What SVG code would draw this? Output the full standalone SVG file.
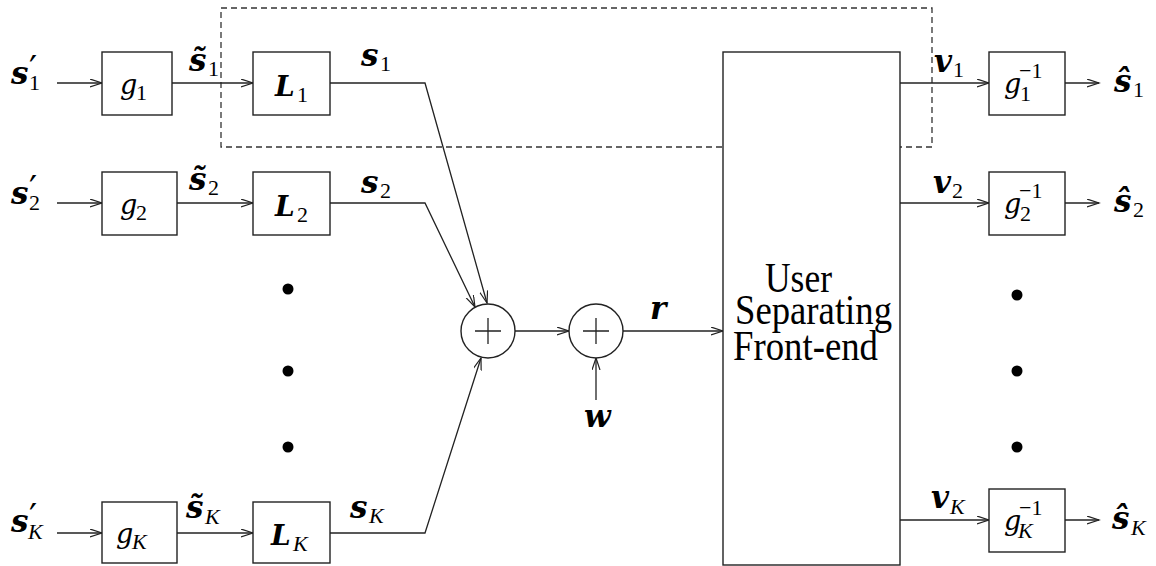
<svg xmlns="http://www.w3.org/2000/svg" width="1156" height="566" viewBox="0 0 1156 566">
<style>
.bx{fill:#fff;stroke:#222;stroke-width:1.4}
.ln{fill:none;stroke:#222;stroke-width:1.3}
.ar{fill:none;stroke:#222;stroke-width:1.3;marker-end:url(#ah)}
.bm{font-family:"DejaVu Serif",serif;font-style:italic;font-weight:bold;font-size:31px;fill:#000}
.bL{font-family:"DejaVu Serif",serif;font-style:italic;font-weight:bold;font-size:28px;fill:#000}
.im{font-family:"DejaVu Serif",serif;font-style:italic;font-size:27px;fill:#000}
.sb{font-family:"Liberation Serif",serif;font-style:normal;font-weight:normal;font-size:22px;fill:#000}
.sk{font-family:"Liberation Serif",serif;font-style:italic;font-weight:normal;font-size:22px;fill:#000}
.pr{font-family:"DejaVu Serif",serif;font-style:normal;font-weight:normal;font-size:36px;fill:#000}
.big{font-family:"Liberation Serif",serif;font-size:42px;fill:#000}
.dot{fill:#000}
</style>
<defs>
<marker id="ah" markerUnits="userSpaceOnUse" markerWidth="14" markerHeight="10" refX="12" refY="4" orient="auto">
<path d="M0,0 L12,4 L0,8" fill="none" stroke="#222" stroke-width="1.2"/>
</marker>
</defs>

<rect id="group-box" x="221" y="8" width="711" height="139" fill="none" stroke="#333" stroke-width="1.3" stroke-dasharray="6,4"/>

<g id="connectors">
<line class="ar" x1="57" y1="83" x2="102" y2="83"/>
<line class="ar" x1="172" y1="83" x2="253" y2="83"/>
<polyline class="ar" points="330,83 425,83 487,303"/>
<line class="ar" x1="57" y1="203" x2="102" y2="203"/>
<line class="ar" x1="177" y1="203" x2="253" y2="203"/>
<polyline class="ar" points="330,203 425,203 475,307"/>
<line class="ar" x1="57" y1="533" x2="102" y2="533"/>
<line class="ar" x1="177" y1="533" x2="253" y2="533"/>
<polyline class="ar" points="330,533 425,533 481,358"/>
<line class="ar" x1="515" y1="331" x2="569" y2="331"/>
<line class="ar" x1="623" y1="331" x2="723" y2="331"/>
<line class="ar" x1="596" y1="400" x2="596" y2="358"/>
<line class="ar" x1="900" y1="83" x2="989" y2="83"/>
<line class="ar" x1="1065" y1="83" x2="1099" y2="83"/>
<line class="ar" x1="900" y1="203" x2="989" y2="203"/>
<line class="ar" x1="1065" y1="203" x2="1099" y2="203"/>
<line class="ar" x1="900" y1="520" x2="989" y2="520"/>
<line class="ar" x1="1065" y1="520" x2="1099" y2="520"/>
</g>

<!-- input labels -->
<g id="in1"><text class="bm" x="11" y="84">s<tspan class="pr" x="29" y="81">′</tspan><tspan class="sb" x="29" y="90">1</tspan></text></g>
<g id="in2"><text class="bm" x="11" y="204">s<tspan class="pr" x="29" y="201">′</tspan><tspan class="sb" x="29" y="210">2</tspan></text></g>
<g id="inK"><text class="bm" x="11" y="532">s<tspan class="pr" x="29" y="529">′</tspan><tspan class="sk" x="28" y="539">K</tspan></text></g>

<!-- g boxes -->
<g id="g1"><rect class="bx" x="102" y="52" width="70" height="63"/><text class="im" x="120" y="94">g</text><text class="sb" x="136" y="100">1</text></g>
<g id="g2"><rect class="bx" x="102" y="172" width="75" height="63"/><text class="im" x="120" y="214">g</text><text class="sb" x="136" y="220">2</text></g>
<g id="gK"><rect class="bx" x="102" y="502" width="75" height="61"/><text class="im" x="116" y="543">g</text><text class="sk" x="132" y="549">K</text></g>

<!-- tilde labels -->
<g id="t1"><text class="bm" x="189" y="71">s̃</text><text class="sb" x="208" y="76">1</text></g>
<g id="t2"><text class="bm" x="189" y="190">s̃</text><text class="sb" x="208" y="195">2</text></g>
<g id="tK"><text class="bm" x="186" y="518">s̃</text><text class="sk" x="205" y="524">K</text></g>

<!-- L boxes -->
<g id="L1"><rect class="bx" x="253" y="52" width="77" height="63"/><text class="bL" x="275" y="96">L</text><text class="sb" x="297" y="102">1</text></g>
<g id="L2"><rect class="bx" x="253" y="172" width="77" height="63"/><text class="bL" x="275" y="216">L</text><text class="sb" x="297" y="222">2</text></g>
<g id="LK"><rect class="bx" x="253" y="502" width="77" height="61"/><text class="bL" x="271" y="545">L</text><text class="sk" x="293" y="551">K</text></g>

<!-- s labels -->
<g id="s1l"><text class="bm" x="361" y="66">s</text><text class="sb" x="380" y="71">1</text></g>
<g id="s2l"><text class="bm" x="361" y="193">s</text><text class="sb" x="380" y="198">2</text></g>
<g id="sKl"><text class="bm" x="350" y="518">s</text><text class="sk" x="369" y="523">K</text></g>

<!-- dots -->
<g id="dots-left"><circle class="dot" cx="288" cy="289" r="5.5"/><circle class="dot" cx="288" cy="371" r="5.5"/><circle class="dot" cx="288" cy="447" r="5.5"/></g>
<g id="dots-right"><circle class="dot" cx="1017" cy="295" r="5.5"/><circle class="dot" cx="1017" cy="371" r="5.5"/><circle class="dot" cx="1017" cy="447" r="5.5"/></g>

<!-- adders -->
<g id="sum1"><circle class="bx" cx="488" cy="331" r="27"/><path class="ln" d="M475,331 H501 M488,318 V344"/></g>
<g id="sum2"><circle class="bx" cx="596" cy="331" r="27"/><path class="ln" d="M583,331 H609 M596,318 V344"/></g>
<g id="wl"><text class="bm" x="584" y="427">w</text></g>
<g id="rl"><text class="bm" x="650" y="319">r</text></g>

<!-- front-end -->
<g id="frontend"><rect class="bx" x="723" y="52" width="177" height="513"/>
<text class="big" x="765" y="292" textLength="67" lengthAdjust="spacingAndGlyphs">User</text>
<text class="big" x="735" y="324" textLength="157" lengthAdjust="spacingAndGlyphs">Separating</text>
<text class="big" x="733" y="360" textLength="145" lengthAdjust="spacingAndGlyphs">Front-end</text>
</g>

<!-- v labels -->
<g id="v1l"><text class="bm" x="934" y="72">v</text><text class="sb" x="953" y="77">1</text></g>
<g id="v2l"><text class="bm" x="933" y="193">v</text><text class="sb" x="952" y="198">2</text></g>
<g id="vKl"><text class="bm" x="931" y="508">v</text><text class="sk" x="950" y="514">K</text></g>

<!-- g inverse boxes -->
<g id="gi1"><rect class="bx" x="989" y="52" width="76" height="63"/><text class="im" x="1004" y="93">g</text><text class="sb" x="1020" y="101">1</text><text class="sb" x="1019" y="78">−1</text></g>
<g id="gi2"><rect class="bx" x="989" y="172" width="76" height="63"/><text class="im" x="1004" y="213">g</text><text class="sb" x="1020" y="221">2</text><text class="sb" x="1019" y="198">−1</text></g>
<g id="giK"><rect class="bx" x="989" y="489" width="76" height="63"/><text class="im" x="1004" y="530">g</text><text class="sk" x="1018" y="538">K</text><text class="sb" x="1019" y="515">−1</text></g>

<!-- outputs -->
<g id="o1"><text class="bm" x="1114" y="92">ŝ</text><text class="sb" x="1133" y="97">1</text></g>
<g id="o2"><text class="bm" x="1114" y="212">ŝ</text><text class="sb" x="1133" y="217">2</text></g>
<g id="oK"><text class="bm" x="1112" y="529">ŝ</text><text class="sk" x="1131" y="535">K</text></g>
</svg>
